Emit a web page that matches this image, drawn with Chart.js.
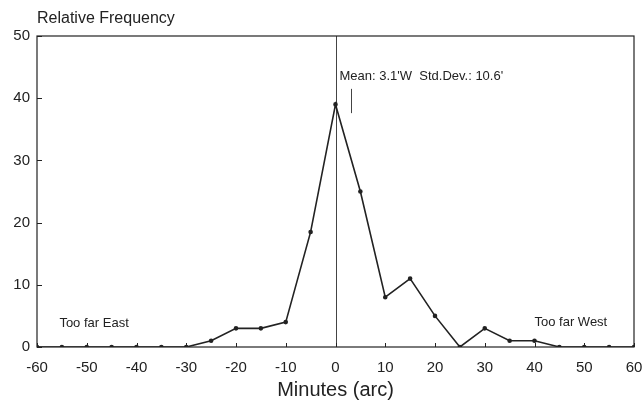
<!DOCTYPE html>
<html>
<head>
<meta charset="utf-8">
<script src="https://cdn.jsdelivr.net/npm/chart.js@4/dist/chart.umd.min.js"></script>
<style>
  html, body { margin: 0; padding: 0; background: #fff; }
  #wrap { width: 644px; height: 406px; }
</style>
</head>
<body>
<div id="wrap"><canvas id="chart" width="644" height="406"></canvas></div>
<script>
const minutes = [-60, -55, -50, -45, -40, -35, -30, -25, -20, -15, -10, -5, 0, 5, 10, 15, 20, 25, 30, 35, 40, 45, 50, 55, 60];
const frequency = [0, 0, 0, 0, 0, 0, 0, 1, 3, 3, 4, 18.5, 39, 25, 8, 11, 5, 0, 3, 1, 1, 0, 0, 0, 0];
const meanValue = 3.1;
const meanLabel = "Mean: 3.1'W  Std.Dev.: 10.6'";
const yTitle = 'Relative Frequency';
const xTitle = 'Minutes (arc)';
const eastLabel = 'Too far East';
const westLabel = 'Too far West';

const ink = '#222';
const fontFamily = '"Liberation Sans", Arial, Helvetica, sans-serif';

const points = minutes.map((m, i) => ({ x: m, y: frequency[i] }));

const frame = {
    id: 'frame',
    beforeDatasetsDraw(chart) {
        const { ctx, chartArea: a, scales: { x, y } } = chart;
        ctx.save();
        // zero line
        ctx.strokeStyle = '#444';
        ctx.lineWidth = 1;
        ctx.beginPath();
        ctx.moveTo(Math.round(x.getPixelForValue(0)) + 0.5, a.top);
        ctx.lineTo(Math.round(x.getPixelForValue(0)) + 0.5, a.bottom);
        ctx.stroke();
        // mean marker
        ctx.beginPath();
        ctx.moveTo(Math.round(x.getPixelForValue(meanValue)) + 0.5, y.getPixelForValue(41.5));
        ctx.lineTo(Math.round(x.getPixelForValue(meanValue)) + 0.5, y.getPixelForValue(37.6));
        ctx.stroke();
        ctx.restore();
    },
    afterDatasetsDraw(chart) {
        const { ctx, chartArea: a, scales: { x, y } } = chart;
        ctx.save();
        ctx.strokeStyle = ink;
        ctx.lineWidth = 1.2;
        ctx.strokeRect(a.left, a.top, a.right - a.left, a.bottom - a.top);
        // inward ticks
        ctx.lineWidth = 1;
        x.ticks.forEach(t => {
            const px = Math.round(x.getPixelForValue(t.value)) + 0.5;
            ctx.beginPath();
            ctx.moveTo(px, a.bottom);
            ctx.lineTo(px, a.bottom - 4);
            ctx.stroke();
        });
        y.ticks.forEach(t => {
            const py = Math.round(y.getPixelForValue(t.value)) + 0.5;
            ctx.beginPath();
            ctx.moveTo(a.left, py);
            ctx.lineTo(a.left + 5, py);
            ctx.stroke();
        });
        // texts
        ctx.fillStyle = ink;
        ctx.textBaseline = 'middle';
        ctx.textAlign = 'left';
        ctx.font = '16px ' + fontFamily;
        ctx.fillText(yTitle, a.left, 19);
        ctx.font = '13px ' + fontFamily;
        ctx.fillText(meanLabel, x.getPixelForValue(0.8), y.getPixelForValue(43.5));
        ctx.fillText(eastLabel, x.getPixelForValue(-55.5), y.getPixelForValue(3.8));
        ctx.fillText(westLabel, x.getPixelForValue(40), y.getPixelForValue(4));
        ctx.restore();
    }
};

new Chart(document.getElementById('chart'), {
    type: 'scatter',
    data: {
        datasets: [{
            data: points,
            showLine: true,
            borderColor: ink,
            backgroundColor: ink,
            borderWidth: 1.6,
            pointRadius: 1.5,
            pointHoverRadius: 1.5,
            tension: 0
        }]
    },
    options: {
        responsive: false,
        animation: false,
        layout: { padding: { top: 36, right: 10, left: 0, bottom: 0 } },
        plugins: {
            legend: { display: false },
            tooltip: { enabled: false }
        },
        scales: {
            x: {
                type: 'linear',
                min: -60,
                max: 60,
                grid: { display: false, drawTicks: false },
                border: { display: false },
                ticks: {
                    stepSize: 10,
                    padding: 12,
                    color: ink,
                    font: { family: fontFamily, size: 15 }
                },
                title: {
                    display: true,
                    text: xTitle,
                    color: ink,
                    font: { family: fontFamily, size: 20 },
                    padding: { top: 0, bottom: 4 }
                },
                afterFit(scale) {
                    scale.height = 59;
                    scale.paddingLeft = 0;
                    scale.paddingRight = 0;
                }
            },
            y: {
                min: 0,
                max: 50,
                grid: { display: false, drawTicks: false },
                border: { display: false },
                ticks: {
                    stepSize: 10,
                    padding: 7,
                    color: ink,
                    font: { family: fontFamily, size: 15 }
                },
                afterFit(scale) { scale.width = 37; }
            }
        }
    },
    plugins: [frame]
});
</script>
</body>
</html>
